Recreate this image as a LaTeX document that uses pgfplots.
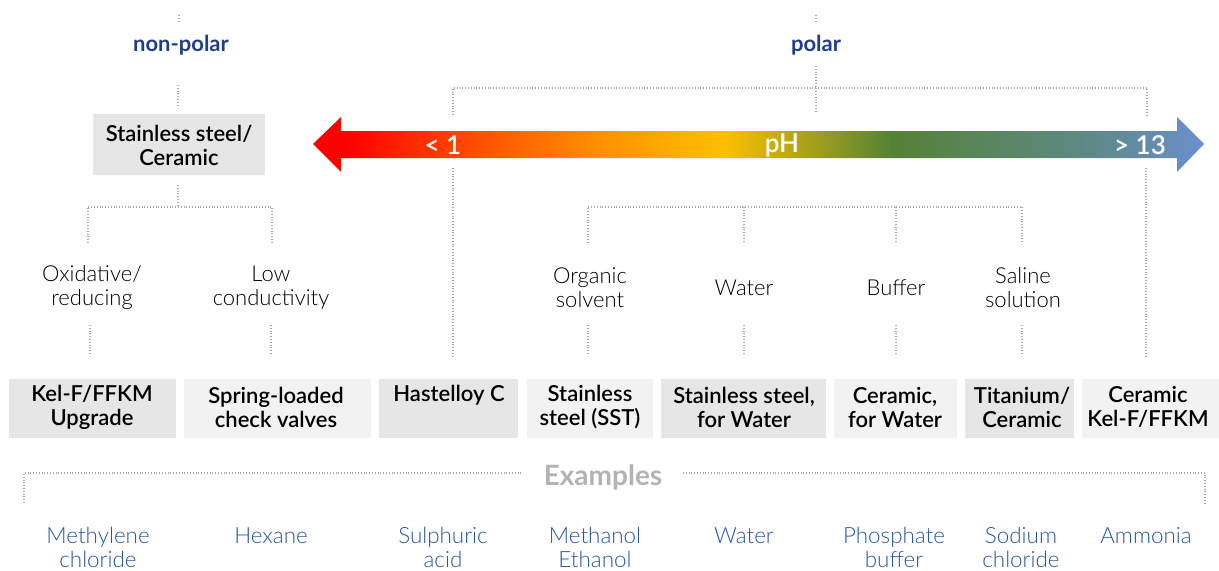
\documentclass[border=0pt]{standalone}
\usepackage{pgfplots}
\pgfplotsset{compat=1.18}
\usepackage{fontspec}
\setmainfont{Lato}
\newfontfamily\lightfont{Lato Light}
\newfontfamily\semifont{Lato Semibold}
\definecolor{boxdark}{HTML}{E6E6E6}
\definecolor{boxlight}{HTML}{F2F2F2}
\definecolor{dotgray}{HTML}{A8A8A8}
\definecolor{navy}{HTML}{1F3D8A}
\definecolor{exblue}{HTML}{2856A3}
\definecolor{exgray}{HTML}{B3B3B3}
\pgfdeclarehorizontalshading{phgrad}{100bp}{rgb(0bp)=(1,0,0); rgb(25bp)=(1,0,0); rgb(26.8bp)=(1,0,0); rgb(32.7bp)=(1,0.25,0); rgb(41.1bp)=(1,0.57,0); rgb(48bp)=(1,0.75,0); rgb(57.5bp)=(0.33,0.51,0.21); rgb(69.2bp)=(0.37,0.54,0.55); rgb(75bp)=(0.42,0.56,0.81); rgb(100bp)=(0.42,0.56,0.81)}
\tikzset{boxtxt/.style={align=center, inner sep=0pt, font=\semifont\fontsize{11}{12}\selectfont},
  midtxt/.style={align=center, inner sep=0pt, font=\lightfont\fontsize{11}{12}\selectfont},
  extxt/.style={align=center, inner sep=0pt, text=exblue, font=\lightfont\fontsize{11.2}{12}\selectfont},
  phtxt/.style={inner sep=0pt, text=white, font=\semifont\fontsize{13}{14}\selectfont}}
\begin{document}
\begin{tikzpicture}
\begin{axis}[scale only axis, width=609.5pt, height=285pt,
  xmin=0, xmax=1219, ymin=-570, ymax=0, hide axis, clip=false,
  unbounded coords=jump]
% canvas extent
\addplot[draw=none, forget plot] coordinates {(0,0) (1219,-570)};
% boxes
\addplot[fill=boxdark, draw=none] coordinates {(93,-114) (265,-114) (265,-175) (93,-175)} -- cycle;
\addplot[fill=boxdark, draw=none] coordinates {(9,-379) (176,-379) (176,-438) (9,-438)} -- cycle;
\addplot[fill=boxlight, draw=none] coordinates {(184,-379) (371,-379) (371,-438) (184,-438)} -- cycle;
\addplot[fill=boxdark, draw=none] coordinates {(379,-379) (518,-379) (518,-438) (379,-438)} -- cycle;
\addplot[fill=boxlight, draw=none] coordinates {(527,-379) (653,-379) (653,-438) (527,-438)} -- cycle;
\addplot[fill=boxdark, draw=none] coordinates {(661,-379) (826,-379) (826,-438) (661,-438)} -- cycle;
\addplot[fill=boxlight, draw=none] coordinates {(834,-379) (957,-379) (957,-438) (834,-438)} -- cycle;
\addplot[fill=boxdark, draw=none] coordinates {(965,-379) (1074,-379) (1074,-438) (965,-438)} -- cycle;
\addplot[fill=boxlight, draw=none] coordinates {(1082,-379) (1219,-379) (1219,-438) (1082,-438)} -- cycle;
% dotted connectors
\addplot[dotgray, line width=0.8pt, dash pattern=on 0.5pt off 0.9pt] coordinates {
(179,-15) (179,-23) (nan,nan)
(178,-85) (178,-106) (nan,nan)
(178,-185) (178,-207) (nan,nan)
(88,-243) (88,-207) (272,-207) (272,-243) (nan,nan)
(90,-325) (90,-355) (nan,nan)
(271,-325) (271,-355) (nan,nan)
(816,-15) (816,-23) (nan,nan)
(816,-66) (816,-113) (nan,nan)
(453,-115) (453,-88) (1147,-88) (1147,-115) (nan,nan)
(453,-168) (453,-358) (nan,nan)
(1146,-168) (1146,-358) (nan,nan)
(588,-243) (588,-207) (1022,-207) (1022,-243) (nan,nan)
(744,-207) (744,-243) (nan,nan)
(896,-207) (896,-243) (nan,nan)
(588,-325) (588,-355) (nan,nan)
(744,-325) (744,-355) (nan,nan)
(896,-325) (896,-355) (nan,nan)
(1022,-325) (1022,-355) (nan,nan)
(24,-503) (24,-473) (522,-473) (nan,nan)
(683,-473) (1205,-473) (1205,-503)
};
% pH arrow
\addplot[draw=none, shade, shading=phgrad] coordinates {
(313,-144) (341,-117) (341,-131) (1177,-131) (1177,-117) (1204,-144)
(1177,-172) (1177,-158) (341,-158) (341,-172)} -- cycle;
\node[phtxt] at (axis cs:443,-145) {< 1};
\node[phtxt] at (axis cs:782,-145) {pH};
\node[phtxt] at (axis cs:1140,-145) {> 13};
% headers
\node[inner sep=0pt, text=navy, font=\bfseries\fontsize{11}{12}\selectfont] at (axis cs:181,-45) {non-polar};
\node[inner sep=0pt, text=navy, font=\bfseries\fontsize{11}{12}\selectfont] at (axis cs:816,-45) {polar};
\node[boxtxt] at (axis cs:179,-145) {Stainless steel/\\Ceramic};
% middle labels
\node[midtxt] at (axis cs:92,-288) {Oxidative/\\reducing};
\node[midtxt] at (axis cs:271,-288) {Low\\conductivity};
\node[midtxt] at (axis cs:590,-288) {Organic\\solvent};
\node[midtxt] at (axis cs:744,-288) {Water};
\node[midtxt] at (axis cs:896,-288) {Buffer};
\node[midtxt] at (axis cs:1023,-288) {Saline\\solution};
% box labels
\node[boxtxt] at (axis cs:92,-407) {Kel-F/FFKM\\Upgrade};
\node[boxtxt] at (axis cs:276,-407) {Spring-loaded\\check valves};
\node[boxtxt] at (axis cs:449,-395) {Hastelloy C};
\node[boxtxt] at (axis cs:590,-407) {Stainless\\steel (SST)};
\node[boxtxt] at (axis cs:744,-407) {Stainless steel,\\for Water};
\node[boxtxt] at (axis cs:895,-407) {Ceramic,\\for Water};
\node[boxtxt] at (axis cs:1022,-407) {Titanium/\\Ceramic};
\node[boxtxt] at (axis cs:1148,-407) {Ceramic\\Kel-F/FFKM};
% examples
\node[inner sep=0pt, text=exgray, font=\bfseries\fontsize{14}{16}\selectfont] at (axis cs:603,-477) {Examples};
\node[extxt] at (axis cs:98,-547) {Methylene\\chloride};
\node[extxt] at (axis cs:271,-536) {Hexane};
\node[extxt] at (axis cs:443,-547) {Sulphuric\\acid};
\node[extxt] at (axis cs:595,-547) {Methanol\\Ethanol};
\node[extxt] at (axis cs:744,-536) {Water};
\node[extxt] at (axis cs:894,-547) {Phosphate\\buffer};
\node[extxt] at (axis cs:1021,-547) {Sodium\\chloride};
\node[extxt] at (axis cs:1146,-536) {Ammonia};
\end{axis}
\end{tikzpicture}
\end{document}
